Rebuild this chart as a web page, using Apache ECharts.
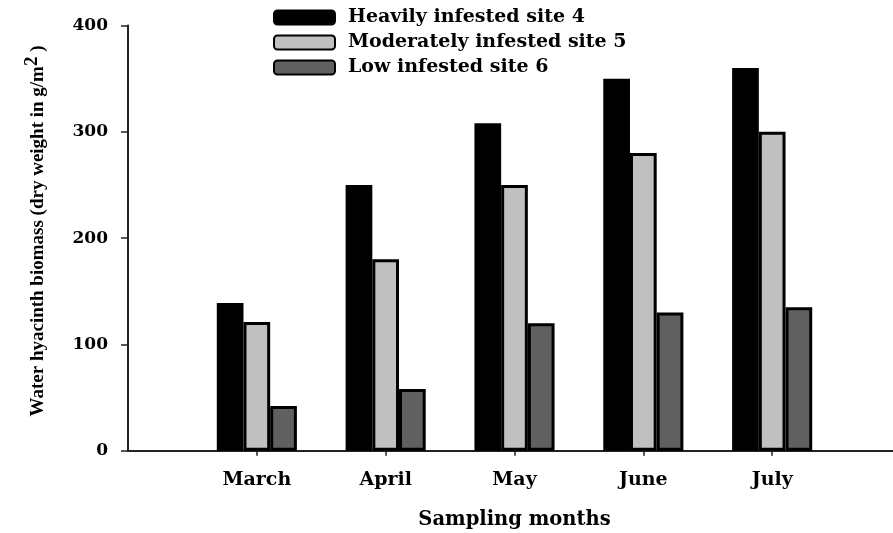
<!DOCTYPE html>
<html>
<head>
<meta charset="utf-8">
<script src="https://cdn.jsdelivr.net/npm/echarts@6/dist/echarts.min.js"></script>
<style>html,body{margin:0;padding:0;background:#fff}#c{width:893px;height:533px}</style>
</head>
<body>
<div id="c"></div>
<script>
const categories = ['March', 'April', 'May', 'June', 'July'];
const heavy = [139, 250, 308, 350, 360];
const moderate = [121, 180, 250, 280, 300];
const low = [42, 58, 120, 130, 135];
const seriesNames = ['Heavily infested site 4', 'Moderately infested site 5', 'Low infested site 6'];
const yTicks = [0, 100, 200, 300, 400];
const yTitle = 'Water hyacinth biomass (dry weight in g/m';
const xTitle = 'Sampling months';

const FONT = '"DejaVu Serif", serif';
const TFONT = '"Liberation Serif", "Times New Roman", serif';
const xData = [''].concat(categories, ['']);
const pad = arr => ['-'].concat(arr, ['-']);
const colors = ['#000000', '#c0c0c0', '#606060'];

const chart = echarts.init(document.getElementById('c'));
const mk = (name, data, color) => ({
  name, type: 'bar', data: pad(data), barWidth: 26.7, barGap: '0%',
  itemStyle: { color, borderColor: '#000', borderWidth: 3 }
});
chart.setOption({
  animation: false,
  legend: {
    orient: 'vertical', left: 273, top: 8, padding: 0, itemWidth: 61, itemHeight: 14, itemGap: 6,
    icon: 'roundRect',
    textStyle: { fontFamily: FONT, fontWeight: 'bold', fontSize: 19, lineHeight: 19, color: '#000', padding: [0, 0, 0, 8] },
    data: seriesNames
  },
  grid: { left: 128, width: 773, top: 25.5, bottom: 82.3, outerBoundsMode: 'none', containLabel: false },
  graphic: [{
    type: 'text', x: 38, y: 231, rotation: Math.PI / 2,
    style: {
      text: yTitle + '{sup|2} )',
      fontFamily: TFONT, fontWeight: 'bold', fontSize: 19, fill: '#000',
      align: 'center', verticalAlign: 'middle',
      rich: { sup: { fontFamily: TFONT, fontWeight: 'bold', fontSize: 19, verticalAlign: 'bottom', padding: [0, 0, 12, 0], fill: '#000' } }
    }
  }],
  xAxis: {
    type: 'category', data: xData, boundaryGap: false,
    name: xTitle, nameLocation: 'middle', nameGap: 59,
    nameTextStyle: { fontFamily: FONT, fontWeight: 'bold', fontSize: 19.5, color: '#000' },
    axisLine: { lineStyle: { color: '#222', width: 2 } },
    axisTick: { length: 5, lineStyle: { color: '#222', width: 1.5 }, interval: (i) => i > 0 && i < xData.length - 1 },
    axisLabel: { fontFamily: FONT, fontWeight: 'bold', fontSize: 19, color: '#000', margin: 20, interval: 0 },
    splitLine: { show: false }
  },
  yAxis: {
    type: 'value', min: yTicks[0], max: yTicks[yTicks.length - 1], interval: 100,
    axisLine: { show: true, lineStyle: { color: '#222', width: 2 } },
    axisTick: { show: true, length: 7, lineStyle: { color: '#222', width: 1.5 } },
    axisLabel: { fontFamily: FONT, fontWeight: 'bold', fontSize: 17, color: '#000', margin: 20 },
    splitLine: { show: false }
  },
  series: [mk(seriesNames[0], heavy, colors[0]), mk(seriesNames[1], moderate, colors[1]), mk(seriesNames[2], low, colors[2])]
});
</script>
</body>
</html>
